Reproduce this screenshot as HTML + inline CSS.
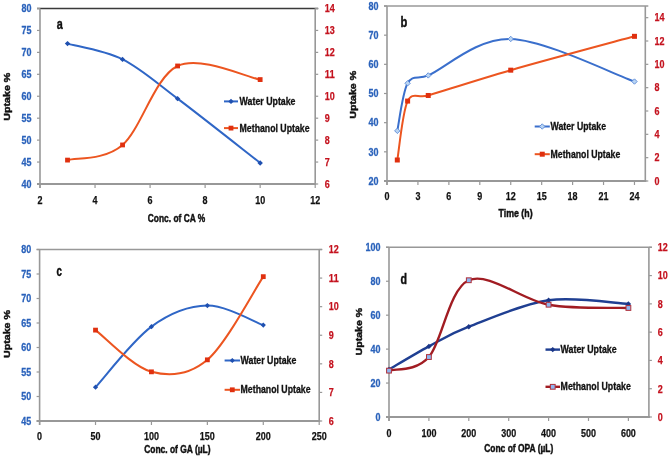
<!DOCTYPE html>
<html><head><meta charset="utf-8"><style>
html,body{margin:0;padding:0;background:#fff;width:669px;height:457px;overflow:hidden}
svg{display:block;font-family:"Liberation Sans", sans-serif;filter:blur(0.35px)}
</style></head><body>
<svg width="669" height="457" viewBox="0 0 669 457">
<rect width="669" height="457" fill="#fff"/>
<line x1="37.00" y1="8.50" x2="318.20" y2="8.50" stroke="#3a3a3a" stroke-width="1.6"/>
<line x1="40.00" y1="8.50" x2="40.00" y2="188.00" stroke="#989898" stroke-width="1.6"/>
<line x1="315.20" y1="8.50" x2="315.20" y2="184.80" stroke="#989898" stroke-width="1.6"/>
<line x1="37.00" y1="184.00" x2="316.20" y2="184.00" stroke="#989898" stroke-width="2.0"/>
<line x1="40.00" y1="184.00" x2="40.00" y2="188.00" stroke="#989898" stroke-width="1.2"/>
<text x="40.00" y="203.60" font-size="11.3" fill="#111" text-anchor="middle" font-weight="bold" textLength="5.00" lengthAdjust="spacingAndGlyphs" stroke="#111" stroke-width="0.25">2</text>
<line x1="95.04" y1="184.00" x2="95.04" y2="188.00" stroke="#989898" stroke-width="1.2"/>
<text x="95.04" y="203.60" font-size="11.3" fill="#111" text-anchor="middle" font-weight="bold" textLength="5.00" lengthAdjust="spacingAndGlyphs" stroke="#111" stroke-width="0.25">4</text>
<line x1="150.08" y1="184.00" x2="150.08" y2="188.00" stroke="#989898" stroke-width="1.2"/>
<text x="150.08" y="203.60" font-size="11.3" fill="#111" text-anchor="middle" font-weight="bold" textLength="5.00" lengthAdjust="spacingAndGlyphs" stroke="#111" stroke-width="0.25">6</text>
<line x1="205.12" y1="184.00" x2="205.12" y2="188.00" stroke="#989898" stroke-width="1.2"/>
<text x="205.12" y="203.60" font-size="11.3" fill="#111" text-anchor="middle" font-weight="bold" textLength="5.00" lengthAdjust="spacingAndGlyphs" stroke="#111" stroke-width="0.25">8</text>
<line x1="260.16" y1="184.00" x2="260.16" y2="188.00" stroke="#989898" stroke-width="1.2"/>
<text x="260.16" y="203.60" font-size="11.3" fill="#111" text-anchor="middle" font-weight="bold" textLength="10.00" lengthAdjust="spacingAndGlyphs" stroke="#111" stroke-width="0.25">10</text>
<line x1="315.20" y1="184.00" x2="315.20" y2="188.00" stroke="#989898" stroke-width="1.2"/>
<text x="315.20" y="203.60" font-size="11.3" fill="#111" text-anchor="middle" font-weight="bold" textLength="10.00" lengthAdjust="spacingAndGlyphs" stroke="#111" stroke-width="0.25">12</text>
<line x1="37.00" y1="184.00" x2="40.00" y2="184.00" stroke="#989898" stroke-width="1.2"/>
<text x="31.60" y="187.80" font-size="11.3" fill="#2a62bb" text-anchor="end" font-weight="bold" textLength="10.00" lengthAdjust="spacingAndGlyphs" stroke="#2a62bb" stroke-width="0.3">40</text>
<line x1="37.00" y1="162.06" x2="40.00" y2="162.06" stroke="#989898" stroke-width="1.2"/>
<text x="31.60" y="165.86" font-size="11.3" fill="#2a62bb" text-anchor="end" font-weight="bold" textLength="10.00" lengthAdjust="spacingAndGlyphs" stroke="#2a62bb" stroke-width="0.3">45</text>
<line x1="37.00" y1="140.12" x2="40.00" y2="140.12" stroke="#989898" stroke-width="1.2"/>
<text x="31.60" y="143.93" font-size="11.3" fill="#2a62bb" text-anchor="end" font-weight="bold" textLength="10.00" lengthAdjust="spacingAndGlyphs" stroke="#2a62bb" stroke-width="0.3">50</text>
<line x1="37.00" y1="118.19" x2="40.00" y2="118.19" stroke="#989898" stroke-width="1.2"/>
<text x="31.60" y="121.99" font-size="11.3" fill="#2a62bb" text-anchor="end" font-weight="bold" textLength="10.00" lengthAdjust="spacingAndGlyphs" stroke="#2a62bb" stroke-width="0.3">55</text>
<line x1="37.00" y1="96.25" x2="40.00" y2="96.25" stroke="#989898" stroke-width="1.2"/>
<text x="31.60" y="100.05" font-size="11.3" fill="#2a62bb" text-anchor="end" font-weight="bold" textLength="10.00" lengthAdjust="spacingAndGlyphs" stroke="#2a62bb" stroke-width="0.3">60</text>
<line x1="37.00" y1="74.31" x2="40.00" y2="74.31" stroke="#989898" stroke-width="1.2"/>
<text x="31.60" y="78.11" font-size="11.3" fill="#2a62bb" text-anchor="end" font-weight="bold" textLength="10.00" lengthAdjust="spacingAndGlyphs" stroke="#2a62bb" stroke-width="0.3">65</text>
<line x1="37.00" y1="52.38" x2="40.00" y2="52.38" stroke="#989898" stroke-width="1.2"/>
<text x="31.60" y="56.17" font-size="11.3" fill="#2a62bb" text-anchor="end" font-weight="bold" textLength="10.00" lengthAdjust="spacingAndGlyphs" stroke="#2a62bb" stroke-width="0.3">70</text>
<line x1="37.00" y1="30.44" x2="40.00" y2="30.44" stroke="#989898" stroke-width="1.2"/>
<text x="31.60" y="34.24" font-size="11.3" fill="#2a62bb" text-anchor="end" font-weight="bold" textLength="10.00" lengthAdjust="spacingAndGlyphs" stroke="#2a62bb" stroke-width="0.3">75</text>
<line x1="37.00" y1="8.50" x2="40.00" y2="8.50" stroke="#989898" stroke-width="1.2"/>
<text x="31.60" y="12.30" font-size="11.3" fill="#2a62bb" text-anchor="end" font-weight="bold" textLength="10.00" lengthAdjust="spacingAndGlyphs" stroke="#2a62bb" stroke-width="0.3">80</text>
<line x1="315.20" y1="184.00" x2="318.20" y2="184.00" stroke="#989898" stroke-width="1.2"/>
<text x="324.80" y="187.80" font-size="11.3" fill="#c4121e" text-anchor="start" font-weight="bold" textLength="5.00" lengthAdjust="spacingAndGlyphs" stroke="#c4121e" stroke-width="0.25">6</text>
<line x1="315.20" y1="162.06" x2="318.20" y2="162.06" stroke="#989898" stroke-width="1.2"/>
<text x="324.80" y="165.86" font-size="11.3" fill="#c4121e" text-anchor="start" font-weight="bold" textLength="5.00" lengthAdjust="spacingAndGlyphs" stroke="#c4121e" stroke-width="0.25">7</text>
<line x1="315.20" y1="140.12" x2="318.20" y2="140.12" stroke="#989898" stroke-width="1.2"/>
<text x="324.80" y="143.93" font-size="11.3" fill="#c4121e" text-anchor="start" font-weight="bold" textLength="5.00" lengthAdjust="spacingAndGlyphs" stroke="#c4121e" stroke-width="0.25">8</text>
<line x1="315.20" y1="118.19" x2="318.20" y2="118.19" stroke="#989898" stroke-width="1.2"/>
<text x="324.80" y="121.99" font-size="11.3" fill="#c4121e" text-anchor="start" font-weight="bold" textLength="5.00" lengthAdjust="spacingAndGlyphs" stroke="#c4121e" stroke-width="0.25">9</text>
<line x1="315.20" y1="96.25" x2="318.20" y2="96.25" stroke="#989898" stroke-width="1.2"/>
<text x="324.80" y="100.05" font-size="11.3" fill="#c4121e" text-anchor="start" font-weight="bold" textLength="10.00" lengthAdjust="spacingAndGlyphs" stroke="#c4121e" stroke-width="0.25">10</text>
<line x1="315.20" y1="74.31" x2="318.20" y2="74.31" stroke="#989898" stroke-width="1.2"/>
<text x="324.80" y="78.11" font-size="11.3" fill="#c4121e" text-anchor="start" font-weight="bold" textLength="10.00" lengthAdjust="spacingAndGlyphs" stroke="#c4121e" stroke-width="0.25">11</text>
<line x1="315.20" y1="52.38" x2="318.20" y2="52.38" stroke="#989898" stroke-width="1.2"/>
<text x="324.80" y="56.17" font-size="11.3" fill="#c4121e" text-anchor="start" font-weight="bold" textLength="10.00" lengthAdjust="spacingAndGlyphs" stroke="#c4121e" stroke-width="0.25">12</text>
<line x1="315.20" y1="30.44" x2="318.20" y2="30.44" stroke="#989898" stroke-width="1.2"/>
<text x="324.80" y="34.24" font-size="11.3" fill="#c4121e" text-anchor="start" font-weight="bold" textLength="10.00" lengthAdjust="spacingAndGlyphs" stroke="#c4121e" stroke-width="0.25">13</text>
<line x1="315.20" y1="8.50" x2="318.20" y2="8.50" stroke="#989898" stroke-width="1.2"/>
<text x="324.80" y="12.30" font-size="11.3" fill="#c4121e" text-anchor="start" font-weight="bold" textLength="10.00" lengthAdjust="spacingAndGlyphs" stroke="#c4121e" stroke-width="0.25">14</text>
<text x="147.80" y="222.00" font-size="10.5" fill="#111" text-anchor="start" font-weight="bold" textLength="57.40" lengthAdjust="spacingAndGlyphs" stroke="#111" stroke-width="0.45">Conc. of CA %</text>
<g transform="translate(6.90,96.70) rotate(-90)"><text x="0.00" y="3.53" font-size="9.8" fill="#111" text-anchor="middle" font-weight="bold" textLength="48.00" lengthAdjust="spacingAndGlyphs" stroke="#111" stroke-width="0.45">Uptake %</text></g>
<text x="56.80" y="28.80" font-size="14" fill="#111" text-anchor="start" font-weight="bold" textLength="6.00" lengthAdjust="spacingAndGlyphs" stroke="#111" stroke-width="0.45">a</text>
<path d="M67.52,43.60 C76.69,46.23 104.21,50.22 122.56,59.39 C140.91,68.57 154.67,81.41 177.60,98.66 C200.53,115.92 246.40,152.23 260.16,162.94" fill="none" stroke="#2f66c6" stroke-width="2" stroke-linejoin="round"/>
<path d="M67.52,160.09 C76.69,157.57 104.21,160.64 122.56,144.95 C140.91,129.27 154.67,76.87 177.60,65.98 C200.53,55.08 246.40,77.31 260.16,79.58" fill="none" stroke="#ec5520" stroke-width="2" stroke-linejoin="round"/>
<path d="M67.52,40.90 L70.22,43.60 L67.52,46.30 L64.82,43.60 Z" fill="#1f50b0"/>
<path d="M122.56,56.69 L125.26,59.39 L122.56,62.09 L119.86,59.39 Z" fill="#1f50b0"/>
<path d="M177.60,95.96 L180.30,98.66 L177.60,101.36 L174.90,98.66 Z" fill="#1f50b0"/>
<path d="M260.16,160.24 L262.86,162.94 L260.16,165.64 L257.46,162.94 Z" fill="#1f50b0"/>
<rect x="65.12" y="157.69" width="4.80" height="4.80" fill="#e0300f"/>
<rect x="120.16" y="142.55" width="4.80" height="4.80" fill="#e0300f"/>
<rect x="175.20" y="63.58" width="4.80" height="4.80" fill="#e0300f"/>
<rect x="257.76" y="77.18" width="4.80" height="4.80" fill="#e0300f"/>
<line x1="224.00" y1="101.40" x2="238.00" y2="101.40" stroke="#2f66c6" stroke-width="2"/>
<path d="M231.00,98.70 L233.70,101.40 L231.00,104.10 L228.30,101.40 Z" fill="#1f50b0"/>
<text x="239.60" y="105.00" font-size="10.0" fill="#111" text-anchor="start" font-weight="bold" textLength="55.90" lengthAdjust="spacingAndGlyphs" stroke="#111" stroke-width="0.3">Water Uptake</text>
<line x1="224.00" y1="128.10" x2="238.00" y2="128.10" stroke="#ec5520" stroke-width="2"/>
<rect x="228.60" y="125.70" width="4.80" height="4.80" fill="#e0300f"/>
<text x="239.60" y="131.70" font-size="10.0" fill="#111" text-anchor="start" font-weight="bold" textLength="69.90" lengthAdjust="spacingAndGlyphs" stroke="#111" stroke-width="0.3">Methanol Uptake</text>
<line x1="384.00" y1="6.00" x2="648.30" y2="6.00" stroke="#989898" stroke-width="1.6"/>
<line x1="387.00" y1="6.00" x2="387.00" y2="185.00" stroke="#989898" stroke-width="1.6"/>
<line x1="645.30" y1="6.00" x2="645.30" y2="181.80" stroke="#989898" stroke-width="1.6"/>
<line x1="384.00" y1="181.00" x2="646.30" y2="181.00" stroke="#989898" stroke-width="2.0"/>
<line x1="387.00" y1="181.00" x2="387.00" y2="185.00" stroke="#989898" stroke-width="1.2"/>
<text x="387.00" y="200.40" font-size="11.3" fill="#111" text-anchor="middle" font-weight="bold" textLength="5.00" lengthAdjust="spacingAndGlyphs" stroke="#111" stroke-width="0.25">0</text>
<line x1="417.93" y1="181.00" x2="417.93" y2="185.00" stroke="#989898" stroke-width="1.2"/>
<text x="417.93" y="200.40" font-size="11.3" fill="#111" text-anchor="middle" font-weight="bold" textLength="5.00" lengthAdjust="spacingAndGlyphs" stroke="#111" stroke-width="0.25">3</text>
<line x1="448.87" y1="181.00" x2="448.87" y2="185.00" stroke="#989898" stroke-width="1.2"/>
<text x="448.87" y="200.40" font-size="11.3" fill="#111" text-anchor="middle" font-weight="bold" textLength="5.00" lengthAdjust="spacingAndGlyphs" stroke="#111" stroke-width="0.25">6</text>
<line x1="479.80" y1="181.00" x2="479.80" y2="185.00" stroke="#989898" stroke-width="1.2"/>
<text x="479.80" y="200.40" font-size="11.3" fill="#111" text-anchor="middle" font-weight="bold" textLength="5.00" lengthAdjust="spacingAndGlyphs" stroke="#111" stroke-width="0.25">9</text>
<line x1="510.74" y1="181.00" x2="510.74" y2="185.00" stroke="#989898" stroke-width="1.2"/>
<text x="510.74" y="200.40" font-size="11.3" fill="#111" text-anchor="middle" font-weight="bold" textLength="10.00" lengthAdjust="spacingAndGlyphs" stroke="#111" stroke-width="0.25">12</text>
<line x1="541.67" y1="181.00" x2="541.67" y2="185.00" stroke="#989898" stroke-width="1.2"/>
<text x="541.67" y="200.40" font-size="11.3" fill="#111" text-anchor="middle" font-weight="bold" textLength="10.00" lengthAdjust="spacingAndGlyphs" stroke="#111" stroke-width="0.25">15</text>
<line x1="572.60" y1="181.00" x2="572.60" y2="185.00" stroke="#989898" stroke-width="1.2"/>
<text x="572.60" y="200.40" font-size="11.3" fill="#111" text-anchor="middle" font-weight="bold" textLength="10.00" lengthAdjust="spacingAndGlyphs" stroke="#111" stroke-width="0.25">18</text>
<line x1="603.54" y1="181.00" x2="603.54" y2="185.00" stroke="#989898" stroke-width="1.2"/>
<text x="603.54" y="200.40" font-size="11.3" fill="#111" text-anchor="middle" font-weight="bold" textLength="10.00" lengthAdjust="spacingAndGlyphs" stroke="#111" stroke-width="0.25">21</text>
<line x1="634.47" y1="181.00" x2="634.47" y2="185.00" stroke="#989898" stroke-width="1.2"/>
<text x="634.47" y="200.40" font-size="11.3" fill="#111" text-anchor="middle" font-weight="bold" textLength="10.00" lengthAdjust="spacingAndGlyphs" stroke="#111" stroke-width="0.25">24</text>
<line x1="384.00" y1="181.00" x2="387.00" y2="181.00" stroke="#989898" stroke-width="1.2"/>
<text x="378.50" y="184.80" font-size="11.3" fill="#2a62bb" text-anchor="end" font-weight="bold" textLength="10.00" lengthAdjust="spacingAndGlyphs" stroke="#2a62bb" stroke-width="0.3">20</text>
<line x1="384.00" y1="151.83" x2="387.00" y2="151.83" stroke="#989898" stroke-width="1.2"/>
<text x="378.50" y="155.63" font-size="11.3" fill="#2a62bb" text-anchor="end" font-weight="bold" textLength="10.00" lengthAdjust="spacingAndGlyphs" stroke="#2a62bb" stroke-width="0.3">30</text>
<line x1="384.00" y1="122.67" x2="387.00" y2="122.67" stroke="#989898" stroke-width="1.2"/>
<text x="378.50" y="126.47" font-size="11.3" fill="#2a62bb" text-anchor="end" font-weight="bold" textLength="10.00" lengthAdjust="spacingAndGlyphs" stroke="#2a62bb" stroke-width="0.3">40</text>
<line x1="384.00" y1="93.50" x2="387.00" y2="93.50" stroke="#989898" stroke-width="1.2"/>
<text x="378.50" y="97.30" font-size="11.3" fill="#2a62bb" text-anchor="end" font-weight="bold" textLength="10.00" lengthAdjust="spacingAndGlyphs" stroke="#2a62bb" stroke-width="0.3">50</text>
<line x1="384.00" y1="64.33" x2="387.00" y2="64.33" stroke="#989898" stroke-width="1.2"/>
<text x="378.50" y="68.13" font-size="11.3" fill="#2a62bb" text-anchor="end" font-weight="bold" textLength="10.00" lengthAdjust="spacingAndGlyphs" stroke="#2a62bb" stroke-width="0.3">60</text>
<line x1="384.00" y1="35.17" x2="387.00" y2="35.17" stroke="#989898" stroke-width="1.2"/>
<text x="378.50" y="38.97" font-size="11.3" fill="#2a62bb" text-anchor="end" font-weight="bold" textLength="10.00" lengthAdjust="spacingAndGlyphs" stroke="#2a62bb" stroke-width="0.3">70</text>
<line x1="384.00" y1="6.00" x2="387.00" y2="6.00" stroke="#989898" stroke-width="1.2"/>
<text x="378.50" y="9.80" font-size="11.3" fill="#2a62bb" text-anchor="end" font-weight="bold" textLength="10.00" lengthAdjust="spacingAndGlyphs" stroke="#2a62bb" stroke-width="0.3">80</text>
<line x1="645.30" y1="181.00" x2="648.30" y2="181.00" stroke="#989898" stroke-width="1.2"/>
<text x="654.50" y="184.80" font-size="11.3" fill="#c4121e" text-anchor="start" font-weight="bold" textLength="5.00" lengthAdjust="spacingAndGlyphs" stroke="#c4121e" stroke-width="0.25">0</text>
<line x1="645.30" y1="157.67" x2="648.30" y2="157.67" stroke="#989898" stroke-width="1.2"/>
<text x="654.50" y="161.47" font-size="11.3" fill="#c4121e" text-anchor="start" font-weight="bold" textLength="5.00" lengthAdjust="spacingAndGlyphs" stroke="#c4121e" stroke-width="0.25">2</text>
<line x1="645.30" y1="134.33" x2="648.30" y2="134.33" stroke="#989898" stroke-width="1.2"/>
<text x="654.50" y="138.13" font-size="11.3" fill="#c4121e" text-anchor="start" font-weight="bold" textLength="5.00" lengthAdjust="spacingAndGlyphs" stroke="#c4121e" stroke-width="0.25">4</text>
<line x1="645.30" y1="111.00" x2="648.30" y2="111.00" stroke="#989898" stroke-width="1.2"/>
<text x="654.50" y="114.80" font-size="11.3" fill="#c4121e" text-anchor="start" font-weight="bold" textLength="5.00" lengthAdjust="spacingAndGlyphs" stroke="#c4121e" stroke-width="0.25">6</text>
<line x1="645.30" y1="87.67" x2="648.30" y2="87.67" stroke="#989898" stroke-width="1.2"/>
<text x="654.50" y="91.47" font-size="11.3" fill="#c4121e" text-anchor="start" font-weight="bold" textLength="5.00" lengthAdjust="spacingAndGlyphs" stroke="#c4121e" stroke-width="0.25">8</text>
<line x1="645.30" y1="64.33" x2="648.30" y2="64.33" stroke="#989898" stroke-width="1.2"/>
<text x="654.50" y="68.13" font-size="11.3" fill="#c4121e" text-anchor="start" font-weight="bold" textLength="10.00" lengthAdjust="spacingAndGlyphs" stroke="#c4121e" stroke-width="0.25">10</text>
<line x1="645.30" y1="41.00" x2="648.30" y2="41.00" stroke="#989898" stroke-width="1.2"/>
<text x="654.50" y="44.80" font-size="11.3" fill="#c4121e" text-anchor="start" font-weight="bold" textLength="10.00" lengthAdjust="spacingAndGlyphs" stroke="#c4121e" stroke-width="0.25">12</text>
<line x1="645.30" y1="17.67" x2="648.30" y2="17.67" stroke="#989898" stroke-width="1.2"/>
<text x="654.50" y="21.47" font-size="11.3" fill="#c4121e" text-anchor="start" font-weight="bold" textLength="10.00" lengthAdjust="spacingAndGlyphs" stroke="#c4121e" stroke-width="0.25">14</text>
<text x="498.60" y="217.00" font-size="10.5" fill="#111" text-anchor="start" font-weight="bold" textLength="34.00" lengthAdjust="spacingAndGlyphs" stroke="#111" stroke-width="0.45">Time (h)</text>
<g transform="translate(352.90,94.80) rotate(-90)"><text x="0.00" y="3.53" font-size="9.8" fill="#111" text-anchor="middle" font-weight="bold" textLength="48.00" lengthAdjust="spacingAndGlyphs" stroke="#111" stroke-width="0.45">Uptake %</text></g>
<text x="400.60" y="26.60" font-size="14" fill="#111" text-anchor="start" font-weight="bold" textLength="6.80" lengthAdjust="spacingAndGlyphs" stroke="#111" stroke-width="0.45">b</text>
<path d="M397.31,130.83 C399.03,122.91 402.47,92.53 407.62,83.29 C412.78,74.06 418.11,79.78 428.25,75.42 C445.43,68.03 476.37,37.94 510.74,38.96 C545.11,39.98 613.85,74.44 634.47,81.54" fill="none" stroke="#3a6fcc" stroke-width="2" stroke-linejoin="round"/>
<path d="M397.31,160.00 C399.03,150.18 402.47,111.84 407.62,101.08 C412.24,91.45 418.01,98.55 428.25,95.48 C445.43,90.33 476.37,80.03 510.74,70.17 C545.11,60.31 613.85,41.97 634.47,36.33" fill="none" stroke="#ec5520" stroke-width="2" stroke-linejoin="round"/>
<path d="M397.31,128.13 L400.01,130.83 L397.31,133.53 L394.61,130.83 Z" fill="#b9d4f2" stroke="#5a8ad8" stroke-width="0.9"/>
<path d="M407.62,80.59 L410.32,83.29 L407.62,85.99 L404.92,83.29 Z" fill="#b9d4f2" stroke="#5a8ad8" stroke-width="0.9"/>
<path d="M428.25,72.72 L430.95,75.42 L428.25,78.12 L425.55,75.42 Z" fill="#b9d4f2" stroke="#5a8ad8" stroke-width="0.9"/>
<path d="M510.74,36.26 L513.44,38.96 L510.74,41.66 L508.04,38.96 Z" fill="#b9d4f2" stroke="#5a8ad8" stroke-width="0.9"/>
<path d="M634.47,78.84 L637.17,81.54 L634.47,84.24 L631.77,81.54 Z" fill="#b9d4f2" stroke="#5a8ad8" stroke-width="0.9"/>
<rect x="394.81" y="157.50" width="5.00" height="5.00" fill="#e0300f"/>
<rect x="405.12" y="98.58" width="5.00" height="5.00" fill="#e0300f"/>
<rect x="425.75" y="92.98" width="5.00" height="5.00" fill="#e0300f"/>
<rect x="508.24" y="67.67" width="5.00" height="5.00" fill="#e0300f"/>
<rect x="631.97" y="33.83" width="5.00" height="5.00" fill="#e0300f"/>
<line x1="534.70" y1="126.50" x2="549.80" y2="126.50" stroke="#3a6fcc" stroke-width="2"/>
<path d="M542.25,123.80 L544.95,126.50 L542.25,129.20 L539.55,126.50 Z" fill="#b9d4f2" stroke="#5a8ad8" stroke-width="0.9"/>
<text x="550.60" y="130.10" font-size="10.0" fill="#111" text-anchor="start" font-weight="bold" textLength="55.40" lengthAdjust="spacingAndGlyphs" stroke="#111" stroke-width="0.3">Water Uptake</text>
<line x1="534.70" y1="154.20" x2="549.80" y2="154.20" stroke="#ec5520" stroke-width="2"/>
<rect x="539.75" y="151.70" width="5.00" height="5.00" fill="#e0300f"/>
<text x="550.60" y="157.80" font-size="10.0" fill="#111" text-anchor="start" font-weight="bold" textLength="69.70" lengthAdjust="spacingAndGlyphs" stroke="#111" stroke-width="0.3">Methanol Uptake</text>
<line x1="36.60" y1="249.50" x2="322.20" y2="249.50" stroke="#989898" stroke-width="1.6"/>
<line x1="39.60" y1="249.50" x2="39.60" y2="425.00" stroke="#989898" stroke-width="1.6"/>
<line x1="319.20" y1="249.50" x2="319.20" y2="421.80" stroke="#989898" stroke-width="1.6"/>
<line x1="36.60" y1="421.00" x2="320.20" y2="421.00" stroke="#989898" stroke-width="2.0"/>
<line x1="39.60" y1="421.00" x2="39.60" y2="425.00" stroke="#989898" stroke-width="1.2"/>
<text x="39.60" y="440.20" font-size="11.3" fill="#111" text-anchor="middle" font-weight="bold" textLength="5.00" lengthAdjust="spacingAndGlyphs" stroke="#111" stroke-width="0.25">0</text>
<line x1="95.52" y1="421.00" x2="95.52" y2="425.00" stroke="#989898" stroke-width="1.2"/>
<text x="95.52" y="440.20" font-size="11.3" fill="#111" text-anchor="middle" font-weight="bold" textLength="10.00" lengthAdjust="spacingAndGlyphs" stroke="#111" stroke-width="0.25">50</text>
<line x1="151.44" y1="421.00" x2="151.44" y2="425.00" stroke="#989898" stroke-width="1.2"/>
<text x="151.44" y="440.20" font-size="11.3" fill="#111" text-anchor="middle" font-weight="bold" textLength="15.00" lengthAdjust="spacingAndGlyphs" stroke="#111" stroke-width="0.25">100</text>
<line x1="207.36" y1="421.00" x2="207.36" y2="425.00" stroke="#989898" stroke-width="1.2"/>
<text x="207.36" y="440.20" font-size="11.3" fill="#111" text-anchor="middle" font-weight="bold" textLength="15.00" lengthAdjust="spacingAndGlyphs" stroke="#111" stroke-width="0.25">150</text>
<line x1="263.28" y1="421.00" x2="263.28" y2="425.00" stroke="#989898" stroke-width="1.2"/>
<text x="263.28" y="440.20" font-size="11.3" fill="#111" text-anchor="middle" font-weight="bold" textLength="15.00" lengthAdjust="spacingAndGlyphs" stroke="#111" stroke-width="0.25">200</text>
<line x1="319.20" y1="421.00" x2="319.20" y2="425.00" stroke="#989898" stroke-width="1.2"/>
<text x="319.20" y="440.20" font-size="11.3" fill="#111" text-anchor="middle" font-weight="bold" textLength="15.00" lengthAdjust="spacingAndGlyphs" stroke="#111" stroke-width="0.25">250</text>
<line x1="36.60" y1="421.00" x2="39.60" y2="421.00" stroke="#989898" stroke-width="1.2"/>
<text x="31.30" y="424.80" font-size="11.3" fill="#2a62bb" text-anchor="end" font-weight="bold" textLength="10.00" lengthAdjust="spacingAndGlyphs" stroke="#2a62bb" stroke-width="0.3">45</text>
<line x1="36.60" y1="396.50" x2="39.60" y2="396.50" stroke="#989898" stroke-width="1.2"/>
<text x="31.30" y="400.30" font-size="11.3" fill="#2a62bb" text-anchor="end" font-weight="bold" textLength="10.00" lengthAdjust="spacingAndGlyphs" stroke="#2a62bb" stroke-width="0.3">50</text>
<line x1="36.60" y1="372.00" x2="39.60" y2="372.00" stroke="#989898" stroke-width="1.2"/>
<text x="31.30" y="375.80" font-size="11.3" fill="#2a62bb" text-anchor="end" font-weight="bold" textLength="10.00" lengthAdjust="spacingAndGlyphs" stroke="#2a62bb" stroke-width="0.3">55</text>
<line x1="36.60" y1="347.50" x2="39.60" y2="347.50" stroke="#989898" stroke-width="1.2"/>
<text x="31.30" y="351.30" font-size="11.3" fill="#2a62bb" text-anchor="end" font-weight="bold" textLength="10.00" lengthAdjust="spacingAndGlyphs" stroke="#2a62bb" stroke-width="0.3">60</text>
<line x1="36.60" y1="323.00" x2="39.60" y2="323.00" stroke="#989898" stroke-width="1.2"/>
<text x="31.30" y="326.80" font-size="11.3" fill="#2a62bb" text-anchor="end" font-weight="bold" textLength="10.00" lengthAdjust="spacingAndGlyphs" stroke="#2a62bb" stroke-width="0.3">65</text>
<line x1="36.60" y1="298.50" x2="39.60" y2="298.50" stroke="#989898" stroke-width="1.2"/>
<text x="31.30" y="302.30" font-size="11.3" fill="#2a62bb" text-anchor="end" font-weight="bold" textLength="10.00" lengthAdjust="spacingAndGlyphs" stroke="#2a62bb" stroke-width="0.3">70</text>
<line x1="36.60" y1="274.00" x2="39.60" y2="274.00" stroke="#989898" stroke-width="1.2"/>
<text x="31.30" y="277.80" font-size="11.3" fill="#2a62bb" text-anchor="end" font-weight="bold" textLength="10.00" lengthAdjust="spacingAndGlyphs" stroke="#2a62bb" stroke-width="0.3">75</text>
<line x1="36.60" y1="249.50" x2="39.60" y2="249.50" stroke="#989898" stroke-width="1.2"/>
<text x="31.30" y="253.30" font-size="11.3" fill="#2a62bb" text-anchor="end" font-weight="bold" textLength="10.00" lengthAdjust="spacingAndGlyphs" stroke="#2a62bb" stroke-width="0.3">80</text>
<line x1="319.20" y1="421.00" x2="322.20" y2="421.00" stroke="#989898" stroke-width="1.2"/>
<text x="328.80" y="424.80" font-size="11.3" fill="#c4121e" text-anchor="start" font-weight="bold" textLength="5.00" lengthAdjust="spacingAndGlyphs" stroke="#c4121e" stroke-width="0.25">6</text>
<line x1="319.20" y1="392.42" x2="322.20" y2="392.42" stroke="#989898" stroke-width="1.2"/>
<text x="328.80" y="396.22" font-size="11.3" fill="#c4121e" text-anchor="start" font-weight="bold" textLength="5.00" lengthAdjust="spacingAndGlyphs" stroke="#c4121e" stroke-width="0.25">7</text>
<line x1="319.20" y1="363.83" x2="322.20" y2="363.83" stroke="#989898" stroke-width="1.2"/>
<text x="328.80" y="367.63" font-size="11.3" fill="#c4121e" text-anchor="start" font-weight="bold" textLength="5.00" lengthAdjust="spacingAndGlyphs" stroke="#c4121e" stroke-width="0.25">8</text>
<line x1="319.20" y1="335.25" x2="322.20" y2="335.25" stroke="#989898" stroke-width="1.2"/>
<text x="328.80" y="339.05" font-size="11.3" fill="#c4121e" text-anchor="start" font-weight="bold" textLength="5.00" lengthAdjust="spacingAndGlyphs" stroke="#c4121e" stroke-width="0.25">9</text>
<line x1="319.20" y1="306.67" x2="322.20" y2="306.67" stroke="#989898" stroke-width="1.2"/>
<text x="328.80" y="310.47" font-size="11.3" fill="#c4121e" text-anchor="start" font-weight="bold" textLength="10.00" lengthAdjust="spacingAndGlyphs" stroke="#c4121e" stroke-width="0.25">10</text>
<line x1="319.20" y1="278.08" x2="322.20" y2="278.08" stroke="#989898" stroke-width="1.2"/>
<text x="328.80" y="281.88" font-size="11.3" fill="#c4121e" text-anchor="start" font-weight="bold" textLength="10.00" lengthAdjust="spacingAndGlyphs" stroke="#c4121e" stroke-width="0.25">11</text>
<line x1="319.20" y1="249.50" x2="322.20" y2="249.50" stroke="#989898" stroke-width="1.2"/>
<text x="328.80" y="253.30" font-size="11.3" fill="#c4121e" text-anchor="start" font-weight="bold" textLength="10.00" lengthAdjust="spacingAndGlyphs" stroke="#c4121e" stroke-width="0.25">12</text>
<text x="144.20" y="452.50" font-size="10.5" fill="#111" text-anchor="start" font-weight="bold" textLength="66.40" lengthAdjust="spacingAndGlyphs" stroke="#111" stroke-width="0.45">Conc. of GA (µL)</text>
<g transform="translate(6.20,334.00) rotate(-90)"><text x="0.00" y="3.53" font-size="9.8" fill="#111" text-anchor="middle" font-weight="bold" textLength="48.00" lengthAdjust="spacingAndGlyphs" stroke="#111" stroke-width="0.45">Uptake %</text></g>
<text x="56.40" y="275.60" font-size="14" fill="#111" text-anchor="start" font-weight="bold" textLength="5.40" lengthAdjust="spacingAndGlyphs" stroke="#111" stroke-width="0.45">c</text>
<path d="M95.52,387.19 C104.84,377.10 132.80,340.23 151.44,326.63 C170.08,313.02 188.72,305.81 207.36,305.56 C226.00,305.30 253.96,321.85 263.28,325.11" fill="none" stroke="#2f66c6" stroke-width="2" stroke-linejoin="round"/>
<path d="M95.52,330.11 C104.84,337.06 132.80,366.88 151.44,371.84 C170.08,376.79 188.72,375.70 207.36,359.83 C226.00,343.97 253.96,290.52 263.28,276.65" fill="none" stroke="#ec5520" stroke-width="2" stroke-linejoin="round"/>
<path d="M95.52,384.59 L98.12,387.19 L95.52,389.79 L92.92,387.19 Z" fill="#1f50b0"/>
<path d="M151.44,324.03 L154.04,326.63 L151.44,329.23 L148.84,326.63 Z" fill="#1f50b0"/>
<path d="M207.36,302.96 L209.96,305.56 L207.36,308.16 L204.76,305.56 Z" fill="#1f50b0"/>
<path d="M263.28,322.51 L265.88,325.11 L263.28,327.71 L260.68,325.11 Z" fill="#1f50b0"/>
<rect x="93.12" y="327.71" width="4.80" height="4.80" fill="#e0300f"/>
<rect x="149.04" y="369.44" width="4.80" height="4.80" fill="#e0300f"/>
<rect x="204.96" y="357.43" width="4.80" height="4.80" fill="#e0300f"/>
<rect x="260.88" y="274.25" width="4.80" height="4.80" fill="#e0300f"/>
<line x1="224.60" y1="360.50" x2="240.00" y2="360.50" stroke="#2f66c6" stroke-width="2"/>
<path d="M232.30,357.90 L234.90,360.50 L232.30,363.10 L229.70,360.50 Z" fill="#1f50b0"/>
<text x="240.60" y="364.10" font-size="10.0" fill="#111" text-anchor="start" font-weight="bold" textLength="55.70" lengthAdjust="spacingAndGlyphs" stroke="#111" stroke-width="0.3">Water Uptake</text>
<line x1="224.60" y1="389.80" x2="240.00" y2="389.80" stroke="#ec5520" stroke-width="2"/>
<rect x="229.90" y="387.40" width="4.80" height="4.80" fill="#e0300f"/>
<text x="240.60" y="393.40" font-size="10.0" fill="#111" text-anchor="start" font-weight="bold" textLength="69.90" lengthAdjust="spacingAndGlyphs" stroke="#111" stroke-width="0.3">Methanol Uptake</text>
<line x1="386.00" y1="247.30" x2="651.90" y2="247.30" stroke="#989898" stroke-width="1.6"/>
<line x1="389.00" y1="247.30" x2="389.00" y2="421.00" stroke="#989898" stroke-width="1.6"/>
<line x1="648.90" y1="247.30" x2="648.90" y2="417.80" stroke="#989898" stroke-width="1.6"/>
<line x1="386.00" y1="417.00" x2="649.90" y2="417.00" stroke="#989898" stroke-width="2.0"/>
<line x1="389.00" y1="417.00" x2="389.00" y2="421.00" stroke="#989898" stroke-width="1.2"/>
<text x="389.00" y="436.50" font-size="11.3" fill="#111" text-anchor="middle" font-weight="bold" textLength="5.00" lengthAdjust="spacingAndGlyphs" stroke="#111" stroke-width="0.25">0</text>
<line x1="428.90" y1="417.00" x2="428.90" y2="421.00" stroke="#989898" stroke-width="1.2"/>
<text x="428.90" y="436.50" font-size="11.3" fill="#111" text-anchor="middle" font-weight="bold" textLength="15.00" lengthAdjust="spacingAndGlyphs" stroke="#111" stroke-width="0.25">100</text>
<line x1="468.80" y1="417.00" x2="468.80" y2="421.00" stroke="#989898" stroke-width="1.2"/>
<text x="468.80" y="436.50" font-size="11.3" fill="#111" text-anchor="middle" font-weight="bold" textLength="15.00" lengthAdjust="spacingAndGlyphs" stroke="#111" stroke-width="0.25">200</text>
<line x1="508.70" y1="417.00" x2="508.70" y2="421.00" stroke="#989898" stroke-width="1.2"/>
<text x="508.70" y="436.50" font-size="11.3" fill="#111" text-anchor="middle" font-weight="bold" textLength="15.00" lengthAdjust="spacingAndGlyphs" stroke="#111" stroke-width="0.25">300</text>
<line x1="548.59" y1="417.00" x2="548.59" y2="421.00" stroke="#989898" stroke-width="1.2"/>
<text x="548.59" y="436.50" font-size="11.3" fill="#111" text-anchor="middle" font-weight="bold" textLength="15.00" lengthAdjust="spacingAndGlyphs" stroke="#111" stroke-width="0.25">400</text>
<line x1="588.49" y1="417.00" x2="588.49" y2="421.00" stroke="#989898" stroke-width="1.2"/>
<text x="588.49" y="436.50" font-size="11.3" fill="#111" text-anchor="middle" font-weight="bold" textLength="15.00" lengthAdjust="spacingAndGlyphs" stroke="#111" stroke-width="0.25">500</text>
<line x1="628.39" y1="417.00" x2="628.39" y2="421.00" stroke="#989898" stroke-width="1.2"/>
<text x="628.39" y="436.50" font-size="11.3" fill="#111" text-anchor="middle" font-weight="bold" textLength="15.00" lengthAdjust="spacingAndGlyphs" stroke="#111" stroke-width="0.25">600</text>
<line x1="386.00" y1="417.00" x2="389.00" y2="417.00" stroke="#989898" stroke-width="1.2"/>
<text x="380.40" y="420.80" font-size="11.3" fill="#2a62bb" text-anchor="end" font-weight="bold" textLength="5.00" lengthAdjust="spacingAndGlyphs" stroke="#2a62bb" stroke-width="0.3">0</text>
<line x1="386.00" y1="383.06" x2="389.00" y2="383.06" stroke="#989898" stroke-width="1.2"/>
<text x="380.40" y="386.86" font-size="11.3" fill="#2a62bb" text-anchor="end" font-weight="bold" textLength="10.00" lengthAdjust="spacingAndGlyphs" stroke="#2a62bb" stroke-width="0.3">20</text>
<line x1="386.00" y1="349.12" x2="389.00" y2="349.12" stroke="#989898" stroke-width="1.2"/>
<text x="380.40" y="352.92" font-size="11.3" fill="#2a62bb" text-anchor="end" font-weight="bold" textLength="10.00" lengthAdjust="spacingAndGlyphs" stroke="#2a62bb" stroke-width="0.3">40</text>
<line x1="386.00" y1="315.18" x2="389.00" y2="315.18" stroke="#989898" stroke-width="1.2"/>
<text x="380.40" y="318.98" font-size="11.3" fill="#2a62bb" text-anchor="end" font-weight="bold" textLength="10.00" lengthAdjust="spacingAndGlyphs" stroke="#2a62bb" stroke-width="0.3">60</text>
<line x1="386.00" y1="281.24" x2="389.00" y2="281.24" stroke="#989898" stroke-width="1.2"/>
<text x="380.40" y="285.04" font-size="11.3" fill="#2a62bb" text-anchor="end" font-weight="bold" textLength="10.00" lengthAdjust="spacingAndGlyphs" stroke="#2a62bb" stroke-width="0.3">80</text>
<line x1="386.00" y1="247.30" x2="389.00" y2="247.30" stroke="#989898" stroke-width="1.2"/>
<text x="380.40" y="251.10" font-size="11.3" fill="#2a62bb" text-anchor="end" font-weight="bold" textLength="15.00" lengthAdjust="spacingAndGlyphs" stroke="#2a62bb" stroke-width="0.3">100</text>
<line x1="648.90" y1="417.00" x2="651.90" y2="417.00" stroke="#989898" stroke-width="1.2"/>
<text x="657.80" y="420.80" font-size="11.3" fill="#c4121e" text-anchor="start" font-weight="bold" textLength="5.00" lengthAdjust="spacingAndGlyphs" stroke="#c4121e" stroke-width="0.25">0</text>
<line x1="648.90" y1="388.72" x2="651.90" y2="388.72" stroke="#989898" stroke-width="1.2"/>
<text x="657.80" y="392.52" font-size="11.3" fill="#c4121e" text-anchor="start" font-weight="bold" textLength="5.00" lengthAdjust="spacingAndGlyphs" stroke="#c4121e" stroke-width="0.25">2</text>
<line x1="648.90" y1="360.43" x2="651.90" y2="360.43" stroke="#989898" stroke-width="1.2"/>
<text x="657.80" y="364.23" font-size="11.3" fill="#c4121e" text-anchor="start" font-weight="bold" textLength="5.00" lengthAdjust="spacingAndGlyphs" stroke="#c4121e" stroke-width="0.25">4</text>
<line x1="648.90" y1="332.15" x2="651.90" y2="332.15" stroke="#989898" stroke-width="1.2"/>
<text x="657.80" y="335.95" font-size="11.3" fill="#c4121e" text-anchor="start" font-weight="bold" textLength="5.00" lengthAdjust="spacingAndGlyphs" stroke="#c4121e" stroke-width="0.25">6</text>
<line x1="648.90" y1="303.87" x2="651.90" y2="303.87" stroke="#989898" stroke-width="1.2"/>
<text x="657.80" y="307.67" font-size="11.3" fill="#c4121e" text-anchor="start" font-weight="bold" textLength="5.00" lengthAdjust="spacingAndGlyphs" stroke="#c4121e" stroke-width="0.25">8</text>
<line x1="648.90" y1="275.58" x2="651.90" y2="275.58" stroke="#989898" stroke-width="1.2"/>
<text x="657.80" y="279.38" font-size="11.3" fill="#c4121e" text-anchor="start" font-weight="bold" textLength="10.00" lengthAdjust="spacingAndGlyphs" stroke="#c4121e" stroke-width="0.25">10</text>
<line x1="648.90" y1="247.30" x2="651.90" y2="247.30" stroke="#989898" stroke-width="1.2"/>
<text x="657.80" y="251.10" font-size="11.3" fill="#c4121e" text-anchor="start" font-weight="bold" textLength="10.00" lengthAdjust="spacingAndGlyphs" stroke="#c4121e" stroke-width="0.25">12</text>
<text x="484.20" y="452.00" font-size="10.5" fill="#111" text-anchor="start" font-weight="bold" textLength="69.10" lengthAdjust="spacingAndGlyphs" stroke="#111" stroke-width="0.45">Conc of OPA (µL)</text>
<g transform="translate(358.90,331.70) rotate(-90)"><text x="0.00" y="3.53" font-size="9.8" fill="#111" text-anchor="middle" font-weight="bold" textLength="47.50" lengthAdjust="spacingAndGlyphs" stroke="#111" stroke-width="0.45">Uptake %</text></g>
<text x="400.40" y="284.20" font-size="14" fill="#111" text-anchor="start" font-weight="bold" textLength="6.50" lengthAdjust="spacingAndGlyphs" stroke="#111" stroke-width="0.45">d</text>
<path d="M389.00,369.48 C395.65,365.64 415.60,353.53 428.90,346.40 C442.20,339.28 448.85,334.41 468.80,326.72 C488.75,319.03 522.00,304.04 548.59,300.25 C575.19,296.46 615.09,303.36 628.39,303.98" fill="none" stroke="#1f3f92" stroke-width="2.4" stroke-linejoin="round"/>
<path d="M389.00,370.62 C395.65,368.35 415.60,372.10 428.90,357.04 C442.20,341.98 448.85,288.97 468.80,280.25 C488.75,271.53 522.00,300.10 548.59,304.72 C575.19,309.33 615.09,307.43 628.39,307.97" fill="none" stroke="#a11c22" stroke-width="2.4" stroke-linejoin="round"/>
<path d="M389.00,366.78 L391.70,369.48 L389.00,372.18 L386.30,369.48 Z" fill="#1a3688"/>
<path d="M428.90,343.70 L431.60,346.40 L428.90,349.10 L426.20,346.40 Z" fill="#1a3688"/>
<path d="M468.80,324.02 L471.50,326.72 L468.80,329.42 L466.10,326.72 Z" fill="#1a3688"/>
<path d="M548.59,297.55 L551.29,300.25 L548.59,302.95 L545.89,300.25 Z" fill="#1a3688"/>
<path d="M628.39,301.28 L631.09,303.98 L628.39,306.68 L625.69,303.98 Z" fill="#1a3688"/>
<rect x="386.60" y="368.22" width="4.80" height="4.80" fill="#8fb6f0" stroke="#b0303a" stroke-width="1.0"/>
<rect x="426.50" y="354.64" width="4.80" height="4.80" fill="#8fb6f0" stroke="#b0303a" stroke-width="1.0"/>
<rect x="466.40" y="277.85" width="4.80" height="4.80" fill="#8fb6f0" stroke="#b0303a" stroke-width="1.0"/>
<rect x="546.19" y="302.32" width="4.80" height="4.80" fill="#8fb6f0" stroke="#b0303a" stroke-width="1.0"/>
<rect x="625.99" y="305.57" width="4.80" height="4.80" fill="#8fb6f0" stroke="#b0303a" stroke-width="1.0"/>
<line x1="545.50" y1="349.60" x2="560.00" y2="349.60" stroke="#1f3f92" stroke-width="2.4"/>
<path d="M552.75,346.90 L555.45,349.60 L552.75,352.30 L550.05,349.60 Z" fill="#1a3688"/>
<text x="560.60" y="353.20" font-size="10.0" fill="#111" text-anchor="start" font-weight="bold" textLength="56.10" lengthAdjust="spacingAndGlyphs" stroke="#111" stroke-width="0.3">Water Uptake</text>
<line x1="545.50" y1="386.80" x2="560.00" y2="386.80" stroke="#a11c22" stroke-width="2.4"/>
<rect x="550.35" y="384.40" width="4.80" height="4.80" fill="#8fb6f0" stroke="#b0303a" stroke-width="1.0"/>
<text x="560.60" y="390.40" font-size="10.0" fill="#111" text-anchor="start" font-weight="bold" textLength="70.20" lengthAdjust="spacingAndGlyphs" stroke="#111" stroke-width="0.3">Methanol Uptake</text>
</svg>
</body></html>
